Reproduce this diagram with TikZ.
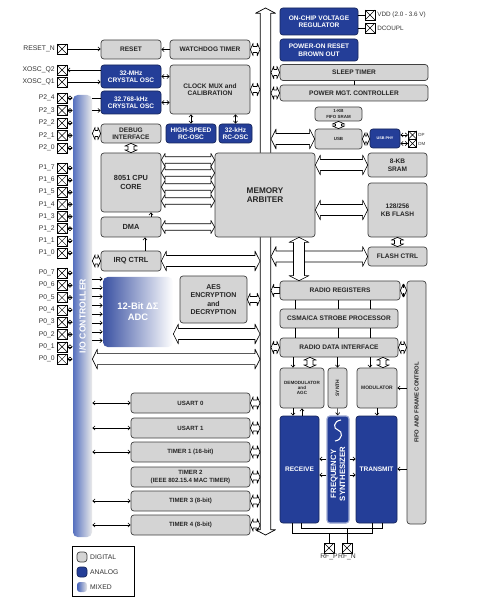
\documentclass[tikz,border=0pt]{standalone}
\usepackage{fontspec}
\setmainfont{Liberation Sans}
\usepackage{xcolor}
\usepackage{tikz}
\usetikzlibrary{arrows.meta,positioning,calc}

\definecolor{anablue}{RGB}{36,62,152}
\definecolor{digigray}{RGB}{212,212,212}
\definecolor{mixblue}{RGB}{66,96,184}

\begin{document}
\begin{tikzpicture}[x=0.03cm, y=-0.03cm]
    % Define styles
    \tikzstyle{block} = [rectangle, rounded corners=2.5pt, line width=0.6pt, align=center, inner sep=0pt, font=\bfseries\fontsize{5.6}{6.4}\selectfont]
    \tikzstyle{digital} = [block, draw=black!75, fill=digigray, text=black!85]
    \tikzstyle{analog} = [block, draw=anablue!60!black, fill=anablue, text=white]
    \tikzstyle{mixed} = [block, left color=mixblue, right color=white]
    \tikzstyle{small} = [font=\bfseries\fontsize{3.8}{4.4}\selectfont]
    \tikzstyle{pin} = [rectangle, draw=black, fill=white, line width=0.5pt, minimum size=0.3cm, inner sep=0pt, path picture={\draw[line width=0.4pt] (path picture bounding box.north west) -- (path picture bounding box.south east) (path picture bounding box.south west) -- (path picture bounding box.north east);}]
    \tikzstyle{pinlabel} = [font=\fontsize{5.8}{6.6}\selectfont, text=black!80, inner sep=0.5pt]
    \tikzstyle{wire} = [line width=0.5pt]
    \tikzstyle{arrow} = [wire, -{Straight Barb[length=2pt,width=3.5pt]}]
    \tikzstyle{darrow} = [wire, {Straight Barb[length=2pt,width=3.5pt]}-{Straight Barb[length=2pt,width=3.5pt]}]
    % fat white arrows, drawn as outlines
    \tikzset{
        fat shaft/.store in=\fatshaft, fat head/.store in=\fathead, fat len/.store in=\fatlen,
        fat shaft=4.7pt, fat head=8.5pt, fat len=4.3pt,
        fat/.style={draw=black, fill=white, line width=0.55pt, line join=round, to path={
            let \p1=(\tikztostart), \p2=(\tikztotarget), \n1={atan2(\y2-\y1,\x2-\x1)} in
            (\p1) -- ($(\p1)+(\n1:\fatlen)+(\n1+90:\fathead)$)
                  -- ($(\p1)+(\n1:\fatlen)+(\n1+90:\fatshaft)$)
                  -- ($(\p2)+(\n1:-\fatlen)+(\n1+90:\fatshaft)$)
                  -- ($(\p2)+(\n1:-\fatlen)+(\n1+90:\fathead)$)
                  -- (\p2)
                  -- ($(\p2)+(\n1:-\fatlen)+(\n1-90:\fathead)$)
                  -- ($(\p2)+(\n1:-\fatlen)+(\n1-90:\fatshaft)$)
                  -- ($(\p1)+(\n1:\fatlen)+(\n1-90:\fatshaft)$)
                  -- ($(\p1)+(\n1:\fatlen)+(\n1-90:\fathead)$)
                  -- cycle}},
        fatback/.style={draw=black, fill=white, line width=0.55pt, line join=round, to path={
            let \p1=(\tikztostart), \p2=(\tikztotarget), \n1={atan2(\y2-\y1,\x2-\x1)} in
            (\p1) -- ($(\p1)+(\n1:\fatlen)+(\n1+90:\fathead)$)
                  -- ($(\p1)+(\n1:\fatlen)+(\n1+90:\fatshaft)$)
                  -- ($(\p2)+(\n1+90:\fatshaft)$)
                  -- ($(\p2)+(\n1-90:\fatshaft)$)
                  -- ($(\p1)+(\n1:\fatlen)+(\n1-90:\fatshaft)$)
                  -- ($(\p1)+(\n1:\fatlen)+(\n1-90:\fathead)$)
                  -- cycle}},
        slim/.style={fat shaft=2.8pt, fat head=5.6pt, fat len=3.2pt},
        link/.style={fat, fat shaft=2.6pt, fat head=5.4pt, fat len=2.4pt},
        bus/.style={fat, line width=0.6pt, fat shaft=4.5pt, fat head=8.5pt, fat len=4.5pt}
    }

    \useasboundingbox (0,0) rectangle (483,601);

    % Main bus
    \coordinate (bustop) at (265.5,8);
    \coordinate (busbot) at (265.5,535);
    \coordinate (busl) at (260,0);
    \coordinate (busr) at (271,0);
    \draw[bus] (bustop) to (busbot);

    % I/O controller
    \node[mixed, rounded corners=4pt, left color=mixblue!90, right color=black!8, minimum width=0.57cm, minimum height=13.26cm] (io) at (82.5,316) {};
    \node[rotate=90, text=white, font=\bfseries\fontsize{7.4}{8}\selectfont] (iotext) at (io) {I/O CONTROLLER};

    % Left blocks
    \node[digital, minimum width=1.8cm, minimum height=0.57cm] (reset) at (131,49.5) {RESET};
    \node[digital, minimum width=2.4cm, minimum height=0.57cm] (wdt) at (210,49.5) {WATCHDOG TIMER};
    \node[analog, minimum width=1.8cm, minimum height=0.69cm] (xosc) at (131,76.5) {32-MHz\\CRYSTAL OSC};
    \node[analog, minimum width=1.8cm, minimum height=0.69cm] (xosck) at (131,102.5) {32.768-kHz\\CRYSTAL OSC};
    \node[digital, minimum width=2.4cm, minimum height=1.47cm] (clk) at (210,89.5) {CLOCK MUX and\\CALIBRATION};
    \node[digital, minimum width=1.8cm, minimum height=0.57cm] (debug) at (131,133.5) {DEBUG\\INTERFACE};
    \node[analog, minimum width=1.5cm, minimum height=0.57cm] (hsrc) at (191,133.5) {HIGH-SPEED\\RC-OSC};
    \node[analog, minimum width=0.99cm, minimum height=0.57cm] (rck) at (235.5,133.5) {32-kHz\\RC-OSC};
    \node[digital, minimum width=1.8cm, minimum height=1.77cm, font=\bfseries\fontsize{6.3}{7.4}\selectfont] (cpu) at (131,182.5) {8051 CPU\\CORE};
    \node[digital, minimum width=1.8cm, minimum height=0.6cm, font=\bfseries\fontsize{6.3}{7.4}\selectfont] (dma) at (131,227) {DMA};
    \node[digital, minimum width=1.8cm, minimum height=0.6cm, font=\bfseries\fontsize{6.3}{7.4}\selectfont] (irq) at (131,261) {IRQ CTRL};
    \node[mixed, draw=none, rounded corners=4pt, left color=anablue!90!white, right color=white, minimum width=2.1cm, minimum height=2.1cm, text=white, font=\bfseries\fontsize{8}{9.6}\selectfont] (adc) at (138,312) {12-Bit ΔΣ\\ADC};
    \node[digital, minimum width=2.01cm, minimum height=1.41cm, font=\bfseries\fontsize{6}{7}\selectfont] (aes) at (213.5,299.5) {AES\\ENCRYPTION\\and\\DECRYPTION};
    \node[digital, minimum width=3.57cm, minimum height=0.6cm, font=\bfseries\fontsize{5.2}{6}\selectfont] (usart0) at (190.5,403) {USART 0};
    \node[digital, minimum width=3.57cm, minimum height=0.6cm, font=\bfseries\fontsize{5.2}{6}\selectfont] (usart1) at (190.5,428) {USART 1};
    \node[digital, minimum width=3.57cm, minimum height=0.6cm, font=\bfseries\fontsize{5.2}{6}\selectfont] (timer1) at (190.5,452) {TIMER 1 (16-bit)};
    \node[digital, minimum width=3.57cm, minimum height=0.6cm, font=\bfseries\fontsize{5.2}{6}\selectfont] (timer2) at (190.5,477) {TIMER 2\\(IEEE 802.15.4 MAC TIMER)};
    \node[digital, minimum width=3.57cm, minimum height=0.6cm, font=\bfseries\fontsize{5.2}{6}\selectfont] (timer3) at (190.5,501) {TIMER 3 (8-bit)};
    \node[digital, minimum width=3.57cm, minimum height=0.6cm, font=\bfseries\fontsize{5.2}{6}\selectfont] (timer4) at (190.5,525) {TIMER 4 (8-bit)};

    % Memory arbiter sits over the bus
    \node[digital, minimum width=3cm, minimum height=2.52cm, font=\bfseries\fontsize{7}{8.2}\selectfont] (mem) at (265,195) {MEMORY\\ARBITER};

    % Right blocks
    \node[analog, minimum width=2.34cm, minimum height=0.81cm] (vreg) at (319,21.5) {ON-CHIP VOLTAGE\\REGULATOR};
    \node[analog, minimum width=2.34cm, minimum height=0.66cm] (por) at (319,50) {POWER-ON RESET\\BROWN OUT};
    \node[digital, minimum width=4.44cm, minimum height=0.48cm] (sleep) at (354,72.5) {SLEEP TIMER};
    \node[digital, minimum width=4.44cm, minimum height=0.48cm] (pmc) at (354,93) {POWER MGT. CONTROLLER};
    \node[digital, small, minimum width=1.41cm, minimum height=0.42cm] (fifosram) at (338.5,114) {1-KB\\FIFO SRAM};
    \node[digital, small, minimum width=1.41cm, minimum height=0.6cm] (usb) at (338.5,139) {USB};
    \node[analog, font=\bfseries\fontsize{3.2}{4}\selectfont, minimum width=0.9cm, minimum height=0.57cm] (usbphy) at (385,138.5) {USB PHY};
    \node[digital, minimum width=1.77cm, minimum height=0.72cm] (sram) at (397.5,165) {8-KB\\SRAM};
    \node[digital, minimum width=1.77cm, minimum height=1.62cm] (flash) at (397.5,210) {128/256\\KB FLASH};
    \node[digital, minimum width=1.77cm, minimum height=0.57cm] (flashctrl) at (397.5,256.5) {FLASH CTRL};
    \node[digital, minimum width=3.6cm, minimum height=0.57cm] (radioreg) at (340,290.5) {RADIO REGISTERS};
    \node[digital, minimum width=3.54cm, minimum height=0.57cm] (csma) at (339,318.5) {CSMA/CA STROBE PROCESSOR};
    \node[digital, minimum width=3.54cm, minimum height=0.57cm] (rdi) at (339,347.5) {RADIO DATA INTERFACE};
    \node[digital, minimum width=0.57cm, minimum height=7.29cm] (fifoctrl) at (416.5,402.5) {};
    \node[rotate=90, font=\bfseries\fontsize{5}{6}\selectfont, text=black!85] (fifotext) at (fifoctrl) {FIFO AND FRAME CONTROL};
    \node[digital, font=\bfseries\fontsize{3.9}{4.6}\selectfont, minimum width=1.32cm, minimum height=1.2cm] (demod) at (302,388) {DEMODULATOR\\and\\AGC};
    \node[digital, minimum width=0.57cm, minimum height=1.2cm] (synth) at (337.5,388) {};
    \node[rotate=90, font=\bfseries\fontsize{4.2}{5}\selectfont, text=black!85] (synthtext) at (synth) {SYNTH};
    \node[digital, font=\bfseries\fontsize{4.2}{5}\selectfont, minimum width=1.2cm, minimum height=1.2cm] (mod) at (377,388) {MODULATOR};
    \node[analog, minimum width=1.17cm, minimum height=3.21cm] (receive) at (299.5,469.5) {RECEIVE};
    \node[analog, draw=anablue!45!white, line width=1pt, minimum width=0.66cm, minimum height=3.21cm] (fsynth) at (338,469.5) {};
    \node[rotate=90, text=white, align=center, font=\bfseries\fontsize{6.6}{7.6}\selectfont] (fsynthtext) at (338,474) {FREQUENCY\\SYNTHESIZER};
    \draw[white, line width=0.9pt] (341,420) .. controls (333,421) and (333,429) .. (338,430) .. controls (343,431) and (343,440) .. (335,441);
    \node[analog, minimum width=1.23cm, minimum height=3.21cm] (transmit) at (376.5,469.5) {TRANSMIT};

    % Pins
    \node[pin] (rstn) at (62,49) {};
    \node[pinlabel, left=1pt of rstn] (rstn-lbl) {RESET\_N};
    \node[pin] (q2) at (62,70) {};
    \node[pinlabel, left=1pt of q2] (q2-lbl) {XOSC\_Q2};
    \node[pin] (q1) at (62,82) {};
    \node[pinlabel, left=1pt of q1] (q1-lbl) {XOSC\_Q1};
    \foreach \n [count=\i from 0] in {4,3,2,1,0} {
        \node[pin] (p2\n) at (62,98+12.5*\i) {};
        \node[pinlabel, left=1pt of p2\n] (p2\n-lbl) {P2\_\n};
        \draw[darrow] (p2\n.east) -- (p2\n.east -| io.west);
    }
    \foreach \n [count=\i from 0] in {7,6,5,4,3,2,1,0} {
        \node[pin] (p1\n) at (62,168+12.14*\i) {};
        \node[pinlabel, left=1pt of p1\n] (p1\n-lbl) {P1\_\n};
        \draw[darrow] (p1\n.east) -- (p1\n.east -| io.west);
    }
    \foreach \n [count=\i from 0] in {7,6,5,4,3,2,1,0} {
        \node[pin] (p0\n) at (62,273+12.3*\i) {};
        \node[pinlabel, left=1pt of p0\n] (p0\n-lbl) {P0\_\n};
        \draw[darrow] (p0\n.east) -- (p0\n.east -| io.west);
    }
    \node[pin] (vdd) at (370,15) {};
    \node[pinlabel, font=\fontsize{5.4}{6}\selectfont, right=1pt of vdd] (vdd-lbl) {VDD (2.0 - 3.6 V)};
    \node[pin] (dcoupl) at (370,28) {};
    \node[pinlabel, font=\fontsize{5.4}{6}\selectfont, right=1pt of dcoupl] (dcoupl-lbl) {DCOUPL};
    \node[pin, minimum size=0.25cm] (dp) at (412.5,135) {};
    \node[pinlabel, font=\fontsize{3.8}{4.4}\selectfont, right=0.5pt of dp] (dp-lbl) {DP};
    \node[pin, minimum size=0.25cm] (dm) at (412.5,143.5) {};
    \node[pinlabel, font=\fontsize{3.8}{4.4}\selectfont, right=0.5pt of dm] (dm-lbl) {DM};
    \node[pin] (rfp) at (329,548) {};
    \node[pinlabel, below=0pt of rfp] (rfp-lbl) {RF\_P};
    \node[pin] (rfn) at (347,548) {};
    \node[pinlabel, below=0pt of rfn] (rfn-lbl) {RF\_N};

    % Arrows, left side
    \draw[arrow] (rstn) -- (rstn -| reset.west);
    \draw[arrow] (wdt) -- (reset);
    \draw[arrow] (xosc.west |- q2) -- (q2);
    \draw[arrow] (q1) -- (xosc.west |- q1);
    \draw[wire] (io.east |- p24) -- (xosck.west |- p24);
    \draw[arrow] (io.east |- p23) -- (xosck.west |- p23);
    \draw[darrow] (xosc.east) -- (xosc.east -| clk.west);
    \draw[darrow] (xosck.east) -- (xosck.east -| clk.west);
    \draw[darrow] (clk.south -| hsrc) -- (hsrc);
    \draw[darrow] (clk.south -| rck) -- (rck);
    \draw[link] (wdt.east) to (wdt.east -| busl);
    \draw[link] (clk.east) to (clk.east -| busl);
    \draw[link] (debug.west) to (debug.west -| io.east);
    \draw[link] (debug.south) to (cpu.north);
    \foreach \y in {160,173,187,201} {
        \coordinate (cm) at (0,\y);
        \draw[fat, slim] (cpu.east |- cm) to (mem.west |- cm);
    }
    \draw[fat, slim] (dma.east) to (dma.east -| mem.west);
    \draw[arrow] ([xshift=0.6cm]dma.north) -- ([xshift=0.6cm]cpu.south);
    \draw[arrow] ([xshift=0.42cm]irq.north) -- ([xshift=0.42cm]dma.south);
    \draw[link] (irq.west) to (irq.west -| io.east);
    \draw[fat] (irq.east) to (irq.east -| busl);
    \draw[link] (aes.east) to (aes.east -| busl);
    \foreach \i in {0,...,7} {
        \coordinate (ain) at (0,279+8.8*\i);
        \draw[arrow] (io.east |- ain) -- (adc.west |- ain);
    }
    \coordinate (adcbus) at (0,334);
    \draw[fat] (adc.east |- adcbus) to (busl |- adcbus);
    \draw[fat] (io.east |- p00) to (busl |- p00);
    \foreach \b in {usart0,usart1,timer1,timer3,timer4} {
        \draw[darrow] (io.east |- \b) -- (\b);
    }
    \foreach \b in {usart0,usart1,timer1,timer2,timer3,timer4} {
        \draw[link] (\b.east) to (\b.east -| busl);
    }

    % Arrows, right side
    \draw[wire] (vreg.east |- vdd) -- (vdd);
    \draw[wire] (vreg.east |- dcoupl) -- (dcoupl);
    \draw[link] (busr |- sleep) to (sleep.west);
    \draw[link] (busr |- pmc) to (pmc.west);
    \draw[wire] (sleep) -- (pmc);
    \draw[link] (fifosram.south) to (usb.north);
    \draw[fat] (busr |- usb) to (usb.west);
    \draw[link] (usb.east) to (usb.east -| usbphy.west);
    \draw[darrow] (usbphy.east |- dp) -- (dp);
    \draw[darrow] (usbphy.east |- dm) -- (dm);
    \draw[fat] (mem.east |- sram) to (sram.west);
    \draw[fat] (mem.east |- flash) to (flash.west);
    \draw[link] (flash.south) to (flashctrl.north);
    \draw[fat] (busr |- flashctrl) to (flashctrl.west);
    \coordinate (mr) at (299,0);
    \draw[fat] (mem.south -| mr) to (radioreg.north -| mr);
    \draw[link, fatback] (busr |- radioreg) to (radioreg.west);
    \draw[link] (radioreg.east) to (radioreg.east -| fifoctrl.west);
    \foreach \x in {295,338,370} {
        \coordinate (v) at (\x,0);
        \draw[wire] (radioreg.south -| v) -- (csma.north -| v);
        \draw[wire] (csma.south -| v) -- (rdi.north -| v);
    }
    \draw[link] (busr |- rdi) to (rdi.west);
    \draw[link] (rdi.east) to (rdi.east -| fifoctrl.west);
    \coordinate (xa) at (293,0);
    \coordinate (xb) at (302,0);
    \coordinate (xc) at (310,0);
    \coordinate (xd) at (370,0);
    \coordinate (xe) at (383,0);
    \coordinate (xf) at (377,0);
    \draw[arrow] (rdi.south -| xa) -- (demod.north -| xa);
    \draw[link] (rdi.south -| xc) to (demod.north -| xc);
    \draw[arrow] (rdi.south -| synth) -- (synth);
    \draw[arrow] (rdi.south -| xd) -- (mod.north -| xd);
    \draw[link] (rdi.south -| xe) to (mod.north -| xe);
    \draw[arrow] (fifoctrl.west |- mod) -- (mod);
    \draw[arrow] (demod.south -| xa) -- (receive.north -| xa);
    \draw[arrow] (receive.north -| xb) -- (demod.south -| xb);
    \draw[arrow] (synth) -- (fsynth);
    \draw[arrow] (mod.south -| xf) -- (transmit.north -| xf);
    \foreach \y in {459,475} {
        \coordinate (fs) at (0,\y);
        \draw[arrow] (fsynth.west |- fs) -- (receive.east |- fs);
        \draw[arrow] (fsynth.east |- fs) -- (transmit.west |- fs);
    }
    \coordinate (ft) at (0,469);
    \draw[arrow] (fifoctrl.west |- ft) -- (transmit.east |- ft);

    % RF lines
    \coordinate (ro) at (292,533);
    \coordinate (to) at (372,533);
    \coordinate (ri) at (301,528);
    \coordinate (ti) at (382,528);
    \draw[wire] (receive.south -| ro) -- (ro) -- (to) -- (transmit.south -| to);
    \draw[wire] (receive.south -| ri) -- (ri) -- (ti) -- (transmit.south -| ti);
    \draw[wire] (rfp |- ro) -- (rfp);
    \draw[wire] (rfn |- ri) -- (rfn);

    % Legend
    \node[draw=black, line width=0.6pt, minimum width=1.86cm, minimum height=1.5cm] (legend) at (103,571) {};
    \node[digital, minimum size=0.3cm] (lgdig) at (82,557) {};
    \node[pinlabel, right=0.06cm of lgdig] (lgdig-lbl) {DIGITAL};
    \node[analog, minimum size=0.3cm] (lgana) at (82,572) {};
    \node[pinlabel, right=0.06cm of lgana] (lgana-lbl) {ANALOG};
    \node[mixed, draw=none, left color=mixblue, right color=black!10, minimum size=0.3cm] (lgmix) at (82,587) {};
    \node[pinlabel, right=0.06cm of lgmix] (lgmix-lbl) {MIXED};
\end{tikzpicture}
\end{document}
